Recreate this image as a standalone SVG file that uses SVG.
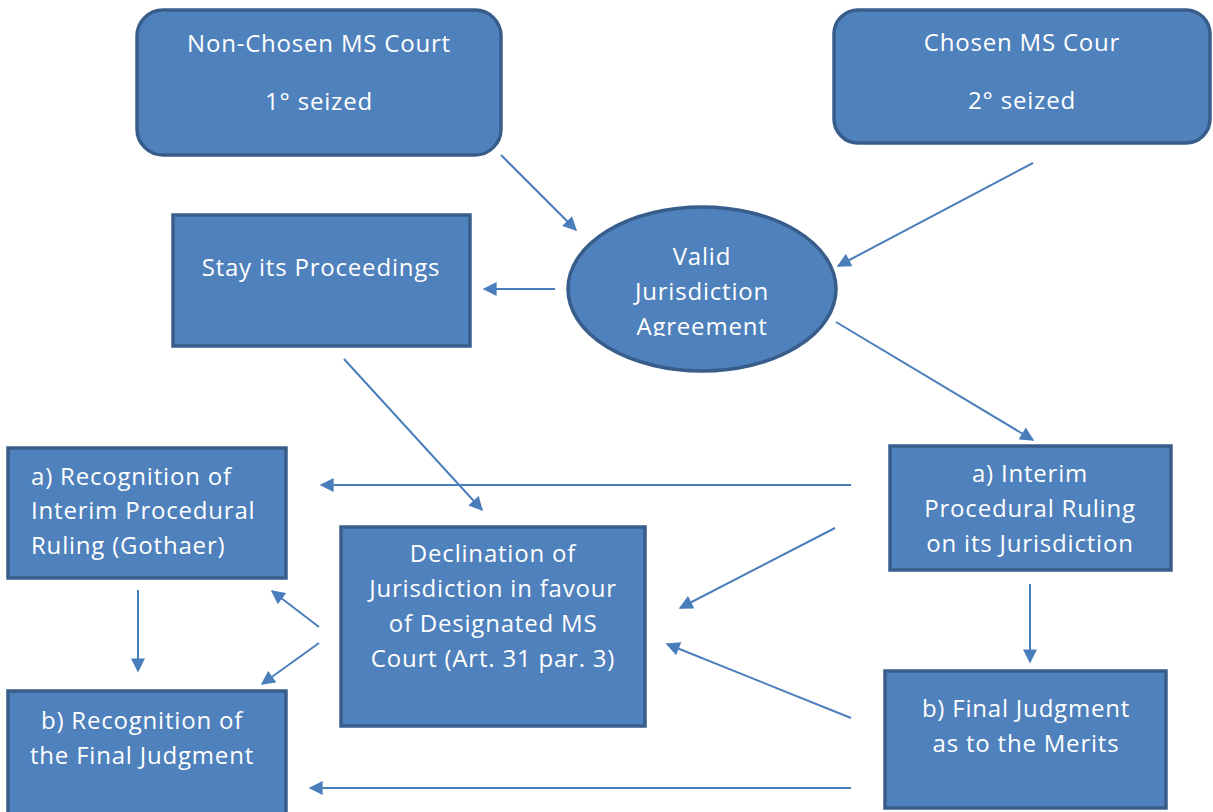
<svg xmlns="http://www.w3.org/2000/svg" width="1213" height="812" viewBox="0 0 1213 812">
<style>
.n{fill:#4F81BD;stroke:#385D8A;stroke-width:3.5}
.t{font-family:"Open Sans","Liberation Sans",sans-serif;font-size:24px;letter-spacing:0.8px;fill:#FFFFFF}
.c{text-anchor:middle}
.e{stroke:#4A7EBB;stroke-width:2;fill:none;marker-end:url(#a)}
</style>
<defs>
<marker id="a" viewBox="0 0 10 10" refX="9" refY="5" markerWidth="7.5" markerHeight="7" orient="auto" markerUnits="strokeWidth">
<path d="M0,0L10,5L0,10z" fill="#4A7EBB"/>
</marker>
<clipPath id="ec"><rect x="560" y="200" width="290" height="136"/></clipPath>
</defs>
<rect width="1213" height="812" fill="#FFFFFF"/>
<g id="connectors">
<line class="e" x1="501" y1="155" x2="576" y2="230"/>
<line class="e" x1="1033" y1="163" x2="838" y2="266"/>
<line class="e" x1="555" y1="289" x2="484" y2="289"/>
<line class="e" x1="836" y1="322" x2="1033" y2="440"/>
<line class="e" x1="344" y1="359" x2="482" y2="510"/>
<line class="e" x1="851" y1="485" x2="321" y2="485"/>
<line class="e" x1="835" y1="528" x2="680" y2="608"/>
<line class="e" x1="1030" y1="584" x2="1030" y2="662"/>
<line class="e" x1="851" y1="718" x2="667" y2="644"/>
<line class="e" x1="851" y1="788" x2="310" y2="788"/>
<line class="e" x1="138" y1="590" x2="138" y2="671"/>
<line class="e" x1="319" y1="627" x2="272" y2="591"/>
<line class="e" x1="319" y1="643" x2="262" y2="684"/>
</g>
<g id="n1">
<rect class="n" x="137" y="10" width="364" height="145" rx="26"/>
<text class="t c" x="319" y="52">Non-Chosen MS Court</text>
<text class="t c" x="319" y="110">1° seized</text>
</g>
<g id="n2">
<rect class="n" x="834" y="10" width="376" height="133" rx="24"/>
<text class="t c" x="1022" y="51">Chosen MS Cour</text>
<text class="t c" x="1022" y="109">2° seized</text>
</g>
<g id="n3">
<ellipse class="n" cx="702" cy="289" rx="134" ry="82"/>
<g clip-path="url(#ec)">
<text class="t c" x="702" y="265">Valid</text>
<text class="t c" x="702" y="300">Jurisdiction</text>
<text class="t c" x="702" y="335">Agreement</text>
</g>
</g>
<g id="n4">
<rect class="n" x="173" y="215" width="297" height="131"/>
<text class="t c" x="321" y="276">Stay its Proceedings</text>
</g>
<g id="n5">
<rect class="n" x="8" y="448" width="278" height="130"/>
<text class="t" x="31" y="485">a) Recognition of</text>
<text class="t" x="31" y="519">Interim Procedural</text>
<text class="t" x="31" y="554">Ruling (Gothaer)</text>
</g>
<g id="n6">
<rect class="n" x="8" y="691" width="278" height="125"/>
<text class="t c" x="142" y="729">b) Recognition of</text>
<text class="t c" x="142" y="764">the Final Judgment</text>
</g>
<g id="n7">
<rect class="n" x="341" y="527" width="304" height="199"/>
<text class="t c" x="493" y="562">Declination of</text>
<text class="t c" x="493" y="597">Jurisdiction in favour</text>
<text class="t c" x="493" y="632">of Designated MS</text>
<text class="t c" x="493" y="667">Court (Art. 31 par. 3)</text>
</g>
<g id="n8">
<rect class="n" x="890" y="446" width="281" height="124"/>
<text class="t c" x="1030" y="482">a) Interim</text>
<text class="t c" x="1030" y="517">Procedural Ruling</text>
<text class="t c" x="1030" y="552">on its Jurisdiction</text>
</g>
<g id="n9">
<rect class="n" x="885" y="671" width="281" height="137"/>
<text class="t c" x="1026" y="717">b) Final Judgment</text>
<text class="t c" x="1026" y="752">as to the Merits</text>
</g>
</svg>
